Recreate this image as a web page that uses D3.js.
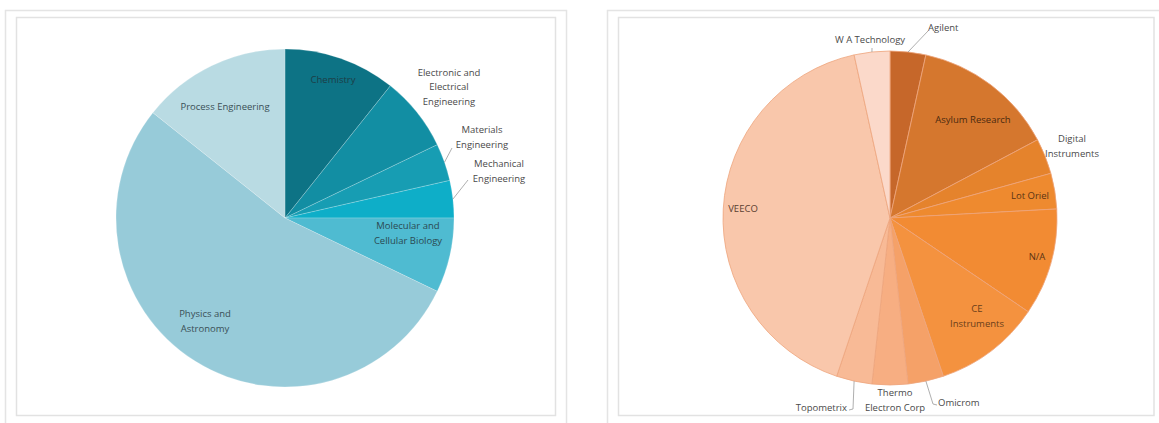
<!DOCTYPE html>
<html>
<head>
<meta charset="utf-8">
<script src="https://cdnjs.cloudflare.com/ajax/libs/d3/7.8.5/d3.min.js"></script>
<style>
  body { margin: 0; background: #fff; }
  svg text { font-family: "Open Sans", "Noto Sans", sans-serif; font-size: 9.5px; fill: #4a4a4a; }
</style>
</head>
<body>
<div id="chart"></div>
<script>
// left pie: subject areas
const subjects = ["Chemistry", "Electronic and Electrical Engineering", "Materials Engineering",
  "Mechanical Engineering", "Molecular and Cellular Biology", "Physics and Astronomy", "Process Engineering"];
const subjectCounts = [3, 2, 1, 1, 2, 15, 4];
const subjectColors = ["#0d7385", "#128ea3", "#179db3", "#0eaec8", "#4fbbd1", "#97cbd9", "#b9dbe3"];

// right pie: instrument makers
const makers = ["Agilent", "Asylum Research", "Digital Instruments", "Lot Oriel", "N/A", "CE Instruments",
  "Omicrom", "Thermo Electron Corp", "Topometrix", "VEECO", "W A Technology"];
const makerCounts = [1, 4, 1, 1, 3, 3, 1, 1, 1, 12, 1];
const makerColors = ["#c6672a", "#d5772e", "#e5832c", "#ee8a2f", "#f28b33", "#f4923f",
  "#f5a168", "#f7ae82", "#f8ba96", "#f9c7ab", "#fbd9ca"];

// label layout, offsets from pie centre (text block centre unless anchor given)
const subjectLabels = {
  "Chemistry": { xy: [48, -138], lines: ["Chemistry"], fill: "#1d3d45" },
  "Electronic and Electrical Engineering": { xy: [164, -131], lines: ["Electronic and", "Electrical", "Engineering"] },
  "Materials Engineering": { xy: [197, -81], lines: ["Materials", "Engineering"], leader: [[167, -70]] },
  "Mechanical Engineering": { xy: [214, -47], lines: ["Mechanical", "Engineering"], leader: [[183, -38]] },
  "Molecular and Cellular Biology": { xy: [123, 15], lines: ["Molecular and", "Cellular Biology"], fill: "#2b4a52" },
  "Physics and Astronomy": { xy: [-80, 103], lines: ["Physics and", "Astronomy"], fill: "#3a4f56" },
  "Process Engineering": { xy: [-60, -111], lines: ["Process Engineering"], fill: "#3a4f56" }
};
const makerLabels = {
  "Agilent": { xy: [38, -190], lines: ["Agilent"], anchor: "start", leader: [[38, -187]] },
  "Asylum Research": { xy: [83, -98], lines: ["Asylum Research"], fill: "#4a2a10" },
  "Digital Instruments": { xy: [182, -72], lines: ["Digital", "Instruments"] },
  "Lot Oriel": { xy: [140, -22], lines: ["Lot Oriel"], fill: "#5a3414" },
  "N/A": { xy: [147, 39], lines: ["N/A"], fill: "#5a3414" },
  "CE Instruments": { xy: [87, 98], lines: ["CE", "Instruments"], fill: "#6a3e1a" },
  "Omicrom": { xy: [48, 185], lines: ["Omicrom"], anchor: "start", leader: [[43, 186], [47, 187]] },
  "Thermo Electron Corp": { xy: [5, 182], lines: ["Thermo", "Electron Corp"] },
  "Topometrix": { xy: [-43, 190], lines: ["Topometrix"], anchor: "end", leader: [[-37, 191], [-41, 192]] },
  "VEECO": { xy: [-147, -9], lines: ["VEECO"], fill: "#5a4030" },
  "W A Technology": { xy: [-20, -178], lines: ["W A Technology"], leader: [[-18, -170]] }
};

const W = 1159, H = 423;
const svg = d3.select("#chart").append("svg").attr("width", W).attr("height", H);

function frame(x0, x1) {
  svg.append("rect").attr("x", x0).attr("y", 10.5).attr("width", x1 - x0).attr("height", 430)
    .attr("fill", "none").attr("stroke", "#e4e4e4").attr("stroke-width", 1.5);
  svg.append("rect").attr("x", x0 + 11).attr("y", 17.5).attr("width", x1 - x0 - 22).attr("height", 398)
    .attr("fill", "none").attr("stroke", "#e2e2e2").attr("stroke-width", 1.5);
}
frame(5.5, 566.5);
frame(607.5, 1165);

function drawPie(cx, cy, r, names, values, colors, labels, strokeCol) {
  const g = svg.append("g").attr("transform", `translate(${cx},${cy})`);
  const pie = d3.pie().sort(null).value(d => d.v);
  const arcs = pie(names.map((n, i) => ({ n: n, v: values[i], c: colors[i] })));
  const arc = d3.arc().innerRadius(0).outerRadius(r);

  g.selectAll("path.slice").data(arcs).enter().append("path")
    .attr("class", "slice")
    .attr("d", arc)
    .attr("fill", d => d.data.c)
    .attr("stroke", strokeCol)
    .attr("stroke-width", 0.8);

  arcs.forEach(d => {
    const lab = labels[d.data.n];
    if (!lab) return;
    if (lab.leader) {
      const mid = (d.startAngle + d.endAngle) / 2;
      const p0 = [Math.sin(mid) * r, -Math.cos(mid) * r];
      g.append("path")
        .attr("d", d3.line()([p0].concat(lab.leader)))
        .attr("fill", "none").attr("stroke", "#9a9a9a").attr("stroke-width", 0.8);
    }
    const lh = 14.5;
    const t = g.append("text")
      .attr("text-anchor", lab.anchor || "middle")
      .style("fill", lab.fill || "#4a4a4a");
    lab.lines.forEach((s, i) => {
      t.append("tspan")
        .attr("x", lab.xy[0])
        .attr("y", lab.xy[1] + (i - (lab.lines.length - 1) / 2) * lh)
        .attr("dy", "0.35em")
        .text(s);
    });
  });
}

drawPie(285, 218, 169, subjects, subjectCounts, subjectColors, subjectLabels, "rgba(255,255,255,0.25)");
drawPie(890, 218, 167, makers, makerCounts, makerColors, makerLabels, "#eda57c");
</script>
</body>
</html>
